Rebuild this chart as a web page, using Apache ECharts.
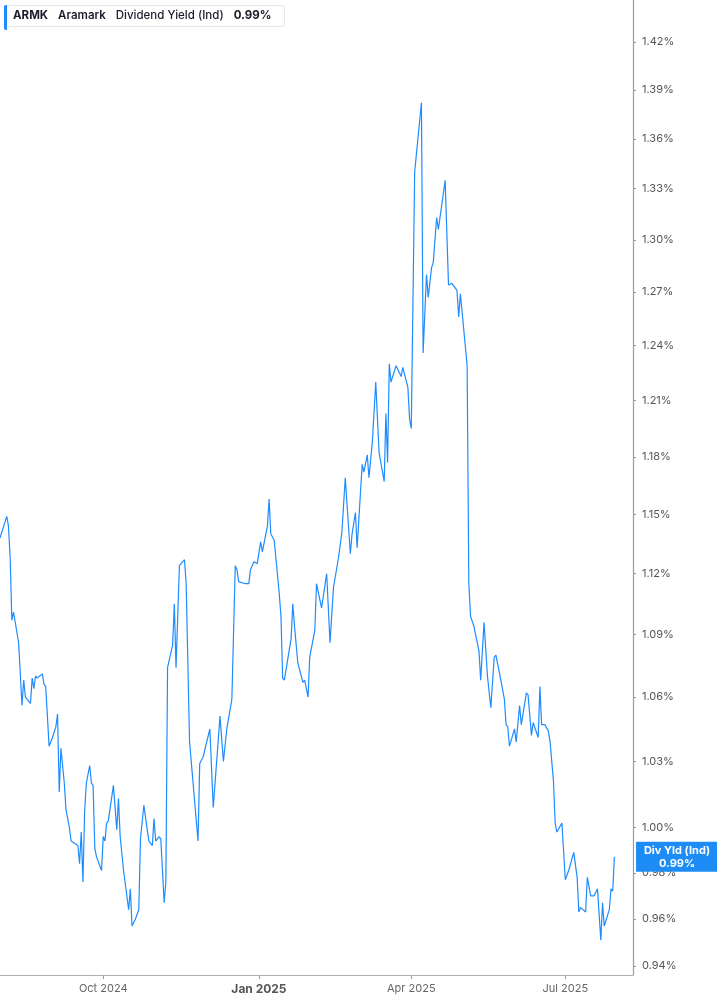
<!DOCTYPE html>
<html>
<head>
<meta charset="utf-8">
<script src="https://cdn.jsdelivr.net/npm/echarts@6/dist/echarts.min.js"></script>
<style>
html,body{margin:0;padding:0;background:#fff;}
#chart{width:717px;height:1005px;}
</style>
</head>
<body>
<div id="chart"></div>
<script>
// ---- data (ARMK dividend yield, %) ----
const ticker = 'ARMK';
const company = 'Aramark';
const metric = 'Dividend Yield (Ind)';
const shortMetric = 'Div Yld (Ind)';

const dates = [
'2024-08-01','2024-08-05','2024-08-06','2024-08-07','2024-08-08','2024-08-09','2024-08-12','2024-08-14','2024-08-15','2024-08-16','2024-08-19','2024-08-20','2024-08-21','2024-08-22','2024-08-23','2024-08-26','2024-08-27','2024-08-28','2024-08-29','2024-08-30',
'2024-09-01','2024-09-03','2024-09-04','2024-09-05','2024-09-06','2024-09-08','2024-09-09','2024-09-11','2024-09-12','2024-09-14','2024-09-16','2024-09-17','2024-09-18','2024-09-19','2024-09-20','2024-09-21','2024-09-23','2024-09-24','2024-09-25','2024-09-26','2024-09-27','2024-09-30',
'2024-10-01','2024-10-02','2024-10-03','2024-10-04','2024-10-07','2024-10-09','2024-10-10','2024-10-11','2024-10-13','2024-10-16','2024-10-17','2024-10-18','2024-10-20','2024-10-22','2024-10-23','2024-10-25','2024-10-27','2024-10-28','2024-10-30','2024-10-31',
'2024-11-01','2024-11-03','2024-11-04','2024-11-06','2024-11-07','2024-11-08','2024-11-11','2024-11-12','2024-11-13','2024-11-15','2024-11-18','2024-11-19','2024-11-21','2024-11-26','2024-11-27','2024-11-29',
'2024-12-03','2024-12-05','2024-12-06','2024-12-09','2024-12-11','2024-12-13','2024-12-16','2024-12-18','2024-12-19','2024-12-20','2024-12-24','2024-12-26','2024-12-27','2024-12-29','2024-12-30','2024-12-31',
'2025-01-02','2025-01-03','2025-01-06','2025-01-07','2025-01-08','2025-01-10','2025-01-13','2025-01-14','2025-01-15','2025-01-16','2025-01-20','2025-01-21','2025-01-22','2025-01-24','2025-01-27','2025-01-28','2025-01-30','2025-01-31',
'2025-02-03','2025-02-04','2025-02-07','2025-02-10','2025-02-12','2025-02-14','2025-02-17','2025-02-19','2025-02-20','2025-02-21','2025-02-24','2025-02-25','2025-02-27','2025-02-28',
'2025-03-03','2025-03-04','2025-03-06','2025-03-07','2025-03-09','2025-03-11','2025-03-12','2025-03-13','2025-03-16','2025-03-17','2025-03-18','2025-03-19','2025-03-20','2025-03-23','2025-03-24','2025-03-26','2025-03-27','2025-03-30','2025-03-31',
'2025-04-01','2025-04-03','2025-04-07','2025-04-08','2025-04-10','2025-04-11','2025-04-13','2025-04-14','2025-04-16','2025-04-17','2025-04-21','2025-04-23','2025-04-24','2025-04-25','2025-04-28','2025-04-29','2025-04-30',
'2025-05-02','2025-05-04','2025-05-05','2025-05-06','2025-05-08','2025-05-09','2025-05-11','2025-05-12','2025-05-14','2025-05-16','2025-05-18','2025-05-19','2025-05-20','2025-05-21','2025-05-23','2025-05-26','2025-05-27','2025-05-28','2025-05-29',
'2025-06-01','2025-06-02','2025-06-04','2025-06-05','2025-06-08','2025-06-09','2025-06-11','2025-06-12','2025-06-15','2025-06-16','2025-06-17','2025-06-19','2025-06-21','2025-06-22','2025-06-24','2025-06-25','2025-06-26','2025-06-29',
'2025-07-01','2025-07-03','2025-07-06','2025-07-08','2025-07-09','2025-07-10','2025-07-13','2025-07-14','2025-07-16','2025-07-18','2025-07-20','2025-07-22','2025-07-23','2025-07-24','2025-07-27','2025-07-28','2025-07-29','2025-07-30'
];

const yields = [
1.138,1.149,1.144,1.128,1.097,1.101,1.086,1.056,1.068,1.060,1.057,1.069,1.064,1.070,1.069,1.071,1.066,1.065,1.051,1.037,
1.041,1.046,1.052,1.016,1.036,1.020,1.008,1.000,0.994,0.993,0.992,0.984,0.998,0.976,1.007,1.020,1.028,1.020,1.019,0.991,0.987,0.981,
0.996,0.994,1.002,1.003,1.019,0.999,1.013,0.996,0.981,0.964,0.973,0.957,0.960,0.964,0.995,1.010,0.999,0.994,0.992,1.004,
0.994,0.996,0.995,0.967,0.976,1.074,1.085,1.105,1.074,1.124,1.127,1.115,1.039,0.994,1.029,1.032,
1.045,1.009,1.009,1.051,1.030,1.045,1.059,1.124,1.122,1.116,1.115,1.115,1.122,1.126,1.127,1.125,
1.136,1.131,1.144,1.158,1.140,1.137,1.110,1.099,1.069,1.068,1.088,1.105,1.094,1.076,1.067,1.068,1.060,1.079,
1.092,1.115,1.103,1.120,1.086,1.113,1.128,1.141,1.140,1.169,1.130,1.140,1.151,1.133,
1.176,1.172,1.181,1.169,1.188,1.220,1.220,1.182,1.167,1.203,1.177,1.230,1.220,1.229,1.230,1.223,1.228,1.217,1.200,
1.195,1.340,1.382,1.236,1.280,1.267,1.284,1.287,1.313,1.306,1.335,1.274,1.273,1.275,1.271,1.256,1.269,
1.249,1.229,1.115,1.099,1.094,1.094,1.082,1.068,1.096,1.070,1.055,1.055,1.079,1.080,1.072,1.059,1.047,1.046,1.037,
1.045,1.039,1.056,1.047,1.062,1.061,1.042,1.048,1.041,1.065,1.047,1.047,1.044,1.039,1.021,1.002,0.998,1.002,
0.977,0.981,0.989,0.978,0.963,0.965,0.963,0.978,0.970,0.970,0.973,0.951,0.967,0.957,0.964,0.973,0.972,0.987
];

const yTickLabels = [0.94,0.96,0.98,1.00,1.03,1.06,1.09,1.12,1.15,1.18,1.21,1.24,1.27,1.30,1.33,1.36,1.39,1.42];
const xTickLabels = ['2024-10-01','2025-01-01','2025-04-01','2025-07-01'];
const xRange = ['2024-08-01','2025-08-10'];
const yRange = [0.9363, 1.4469];

// ---- chart: dates as timestamps on a value axis, yields on a log-scaled value axis ----
const ln = Math.log;
const ts = s => { const p = s.split('-').map(Number); return Date.UTC(p[0], p[1] - 1, p[2]); };
const seriesData = dates.map((d, i) => [ts(d), ln(yields[i])]);
const lastVal = yields[yields.length - 1];
const months = ['Jan','Feb','Mar','Apr','May','Jun','Jul','Aug','Sep','Oct','Nov','Dec'];
const FONT = 'Inter, "Noto Sans", sans-serif';

const chart = echarts.init(document.getElementById('chart'), null, {renderer: 'canvas'});
chart.setOption({
  animation: false,
  backgroundColor: '#ffffff',
  textStyle: {fontFamily: FONT},
  title: {
    left: 5, top: 5,
    text: '{a|' + ticker + '}{m|' + company + '}{n|' + metric + '}{e|' + lastVal.toFixed(2) + '%}',
    backgroundColor: '#ffffff',
    borderColor: '#e8e8e8',
    borderWidth: 1,
    borderRadius: 3,
    padding: [5, 13, 5, 8],
    textStyle: {
      rich: {
        a: {fontFamily: FONT, fontSize: 11.5, fontWeight: 700, color: '#1b1b2b', padding: [0, 10, 0, 0]},
        m: {fontFamily: FONT, fontSize: 11.5, fontWeight: 600, color: '#1b1b2b', padding: [0, 10, 0, 0]},
        n: {fontFamily: FONT, fontSize: 11.5, fontWeight: 500, color: '#1b1b2b', padding: [0, 10, 0, 0]},
        e: {fontFamily: FONT, fontSize: 11.5, fontWeight: 700, color: '#1b1b2b'}
      }
    }
  },
  graphic: [{
    type: 'rect', left: 4, top: 5, z: 10,
    shape: {width: 3, height: 25, r: [2, 0, 0, 2]},
    style: {fill: '#1e8cff'}
  }],
  grid: {left: 0, right: 84, top: 0, bottom: 30, containLabel: false},
  xAxis: {
    type: 'value',
    min: ts(xRange[0]), max: ts(xRange[1]),
    scale: true,
    axisLine: {show: true, onZero: false, lineStyle: {color: '#b0b0b0', width: 1.2}},
    axisTick: {show: true, customValues: xTickLabels.map(ts), length: 4, lineStyle: {color: '#999'}},
    splitLine: {show: false},
    axisLabel: {
      customValues: xTickLabels.map(ts),
      margin: 8,
      fontSize: 11,
      color: '#666',
      fontFamily: FONT,
      formatter: function (v) {
        const d = new Date(v);
        const s = months[d.getUTCMonth()] + ' ' + d.getUTCFullYear();
        return d.getUTCMonth() === 0 ? '{b|' + s + '}' : s;
      },
      rich: {b: {fontSize: 12, fontWeight: 700, color: '#555', fontFamily: FONT}}
    }
  },
  yAxis: {
    type: 'value',
    position: 'right',
    min: ln(yRange[0]), max: ln(yRange[1]),
    scale: true,
    axisLine: {show: true, onZero: false, lineStyle: {color: '#999', width: 1.2}},
    axisTick: {show: true, customValues: yTickLabels.map(ln), length: 3, lineStyle: {color: '#999'}},
    splitLine: {show: false},
    axisLabel: {
      customValues: yTickLabels.map(ln),
      margin: 9,
      fontSize: 11,
      color: '#555',
      fontFamily: FONT,
      formatter: v => Math.exp(v).toFixed(2) + '%'
    }
  },
  series: [{
    type: 'line',
    data: seriesData,
    symbol: 'none',
    lineStyle: {color: '#1e8cff', width: 1.2},
    clip: false,
    markPoint: {
      silent: true,
      symbol: 'circle',
      symbolSize: 0.1,
      itemStyle: {color: 'rgba(0,0,0,0)'},
      data: [{coord: [ts(xRange[1]), ln(lastVal)], value: lastVal}],
      label: {
        show: true,
        position: 'right',
        distance: 3,
        formatter: p => '{t|' + shortMetric + '}\n{t|' + p.value.toFixed(2) + '%}',
        backgroundColor: '#1e8cf5',
        padding: [2, 8, 2, 8],
        rich: {
          t: {width: 66, align: 'center', color: '#ffffff', fontFamily: FONT, fontSize: 11, fontWeight: 700, lineHeight: 13}
        }
      }
    }
  }]
});
</script>
</body>
</html>
